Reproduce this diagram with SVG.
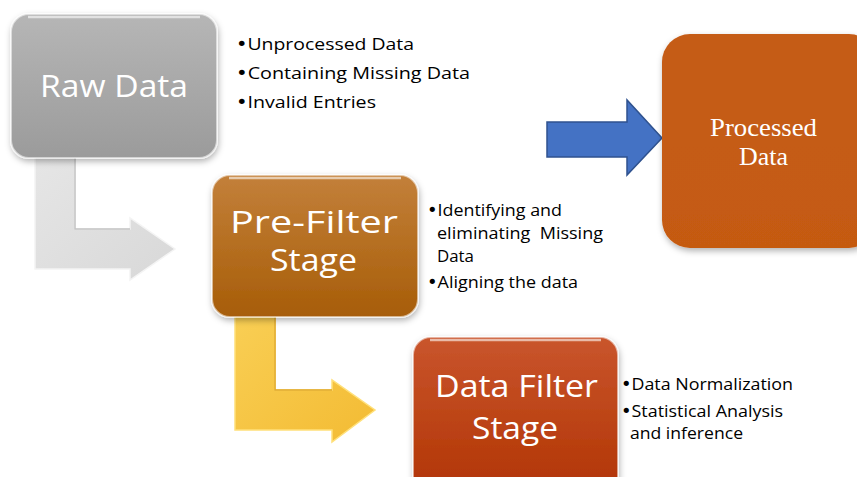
<svg xmlns="http://www.w3.org/2000/svg" width="857" height="477" viewBox="0 0 857 477">
<defs>
<linearGradient id="gGray" x1="0" y1="0" x2="0" y2="1"><stop offset="0" stop-color="#b6b6b6"/><stop offset="1" stop-color="#9b9b9b"/></linearGradient>
<linearGradient id="gPre" x1="0" y1="0" x2="0" y2="1"><stop offset="0" stop-color="#c3803a"/><stop offset="1" stop-color="#a75d08"/></linearGradient>
<linearGradient id="gFil" x1="0" y1="0" x2="0" y2="1"><stop offset="0" stop-color="#c9552d"/><stop offset="1" stop-color="#b13402"/></linearGradient>
<linearGradient id="gProc" x1="0" y1="0" x2="0" y2="1"><stop offset="0" stop-color="#c55c17"/><stop offset="1" stop-color="#c55a11"/></linearGradient>
<linearGradient id="gArrGray" x1="0" y1="0" x2="1" y2="1"><stop offset="0" stop-color="#e6e6e6"/><stop offset="1" stop-color="#d8d8d8"/></linearGradient>
<linearGradient id="gArrYel" x1="0" y1="0" x2="1" y2="1"><stop offset="0" stop-color="#f9cf55"/><stop offset="1" stop-color="#f3bb33"/></linearGradient>
<filter id="sh" x="-10%" y="-10%" width="125%" height="130%"><feDropShadow dx="1" dy="3" stdDeviation="3" flood-color="#000" flood-opacity="0.3"/></filter>
</defs>
<style>
.box{stroke:#ffffff;stroke-opacity:0.55;stroke-width:2;filter:url(#sh)}
.hl{fill:none;stroke:#ffffff;stroke-opacity:0.6;stroke-width:2.5}
.title{font-family:"Open Sans","Liberation Sans",sans-serif;fill:#ffffff;font-size:31px}
.ser{font-family:"Liberation Serif","Times New Roman",serif;fill:#ffffff;font-size:26px}
.bul{font-family:"Open Sans","Liberation Sans",sans-serif;fill:#000000;font-size:17px}
.dot{font-family:"DejaVu Sans",sans-serif}
.arr{stroke-width:1.5;stroke-linejoin:miter}
</style>
<rect width="857" height="477" fill="#ffffff"/>
<g id="connectors">
<polygon class="arr" points="35,150 75,150 75,229 130,229 130,218 175,249 130,280 130,269 35,269" fill="url(#gArrGray)" stroke="#f4f4f4"/>
<polyline points="75,158 75,229 130,229" fill="none" stroke="#c4c4c4" stroke-width="1.5"/>
<polygon class="arr" points="235,310 275,310 275,390 332,390 332,380 375,410 332,442 332,430 235,430" fill="url(#gArrYel)" stroke="#ffe07a"/>
<polyline points="275,317 275,390 332,390" fill="none" stroke="#e0a82a" stroke-width="1.5"/>
<polygon points="547,122 627,122 627,100 662,138 627,175 627,157 547,157" fill="#4472c4" stroke="#2f528f" stroke-width="1.5"/>
</g>
<g id="raw-data">
<rect class="box" x="11" y="14" width="206" height="144" rx="18" fill="url(#gGray)"/>
<path class="hl" d="M28,17 H200"/>
<text class="title" x="40" y="97" font-size="34" textLength="148" lengthAdjust="spacingAndGlyphs">Raw Data</text>
<text class="bul" x="236" y="50" font-size="18" textLength="178" lengthAdjust="spacingAndGlyphs"><tspan class="dot">•</tspan>Unprocessed Data</text>
<text class="bul" x="236" y="79" font-size="18" textLength="234" lengthAdjust="spacingAndGlyphs"><tspan class="dot">•</tspan>Containing Missing Data</text>
<text class="bul" x="236" y="108" font-size="18" textLength="140" lengthAdjust="spacingAndGlyphs"><tspan class="dot">•</tspan>Invalid Entries</text>
</g>
<g id="pre-filter">
<rect class="box" x="212" y="175" width="206" height="142" rx="18" fill="url(#gPre)"/>
<path class="hl" d="M229,178 H401"/>
<text class="title" x="230" y="233" textLength="168" lengthAdjust="spacingAndGlyphs">Pre-Filter</text>
<text class="title" x="270" y="271" textLength="87" lengthAdjust="spacingAndGlyphs">Stage</text>
<text class="bul" x="427" y="216" textLength="135" lengthAdjust="spacingAndGlyphs"><tspan class="dot">•</tspan>Identifying and</text>
<text class="bul" x="437" y="239" textLength="166" lengthAdjust="spacingAndGlyphs" style="white-space:pre">eliminating  Missing</text>
<text class="bul" x="437" y="262" textLength="37" lengthAdjust="spacingAndGlyphs">Data</text>
<text class="bul" x="427" y="288" textLength="151" lengthAdjust="spacingAndGlyphs"><tspan class="dot">•</tspan>Aligning the data</text>
</g>
<g id="data-filter">
<rect class="box" x="413" y="337" width="205" height="160" rx="18" fill="url(#gFil)"/>
<path class="hl" d="M430,340 H601"/>
<text class="title" x="435" y="397" textLength="163" lengthAdjust="spacingAndGlyphs">Data Filter</text>
<text class="title" x="472" y="439" textLength="86" lengthAdjust="spacingAndGlyphs">Stage</text>
<text class="bul" x="621" y="390" textLength="172" lengthAdjust="spacingAndGlyphs"><tspan class="dot">•</tspan>Data Normalization</text>
<text class="bul" x="621" y="417" textLength="162" lengthAdjust="spacingAndGlyphs"><tspan class="dot">•</tspan>Statistical Analysis</text>
<text class="bul" x="630" y="439" textLength="113" lengthAdjust="spacingAndGlyphs">and inference</text>
</g>
<g id="processed-data">
<rect x="662" y="34" width="215" height="214" rx="28" fill="url(#gProc)" filter="url(#sh)"/>
<text class="ser" x="710" y="136" textLength="107" lengthAdjust="spacingAndGlyphs">Processed</text>
<text class="ser" x="739" y="165" textLength="49" lengthAdjust="spacingAndGlyphs">Data</text>
</g>
</svg>
